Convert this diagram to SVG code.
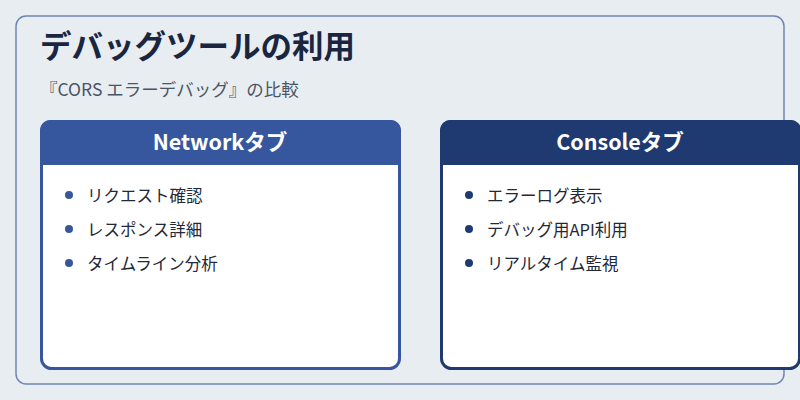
<svg xmlns="http://www.w3.org/2000/svg" width="800" height="400" viewBox="0 0 800 400">
<style>
text{font-family:"Noto Sans CJK JP","Noto Sans",sans-serif}
.h{fill:#fff;font-size:21.5px;font-weight:bold;text-anchor:middle}
.i{fill:#1f2937;font-size:16.5px}
</style>
<rect width="800" height="400" fill="#e8edf2"/>
<rect x="16" y="16" width="768" height="368" rx="10" fill="#e8edf2" stroke="#6f86b3" stroke-width="1.5"/>
<text x="40" y="58" font-size="31.5" font-weight="bold" fill="#1a2540">デバッグツールの利用</text>
<text x="40" y="96" font-size="17.5" fill="#4b5563">『CORS エラーデバッグ』の比較</text>
<g id="network">
<rect x="41.5" y="121.5" width="358" height="247" rx="10" fill="#fff" stroke="#36579e" stroke-width="3"/>
<path d="M40,165 V130 a10,10 0 0 1 10,-10 H391 a10,10 0 0 1 10,10 V165 Z" fill="#36579e"/>
<text class="h" x="220" y="150">Networkタブ</text>
<g fill="#36579e"><circle cx="69" cy="195" r="4"/><circle cx="69" cy="229" r="4"/><circle cx="69" cy="263" r="4"/></g>
<text class="i" x="87" y="202">リクエスト確認</text>
<text class="i" x="87" y="236">レスポンス詳細</text>
<text class="i" x="87" y="270">タイムライン分析</text>
</g>
<g id="console">
<rect x="441.5" y="121.5" width="358" height="247" rx="10" fill="#fff" stroke="#1e3a70" stroke-width="3"/>
<path d="M440,165 V130 a10,10 0 0 1 10,-10 H791 a10,10 0 0 1 10,10 V165 Z" fill="#1e3a70"/>
<text class="h" x="620" y="150">Consoleタブ</text>
<g fill="#1e3a70"><circle cx="469" cy="195" r="4"/><circle cx="469" cy="229" r="4"/><circle cx="469" cy="263" r="4"/></g>
<text class="i" x="487" y="202">エラーログ表示</text>
<text class="i" x="487" y="236">デバッグ用API利用</text>
<text class="i" x="487" y="270">リアルタイム監視</text>
</g>
<g id="connectors"/>
</svg>
